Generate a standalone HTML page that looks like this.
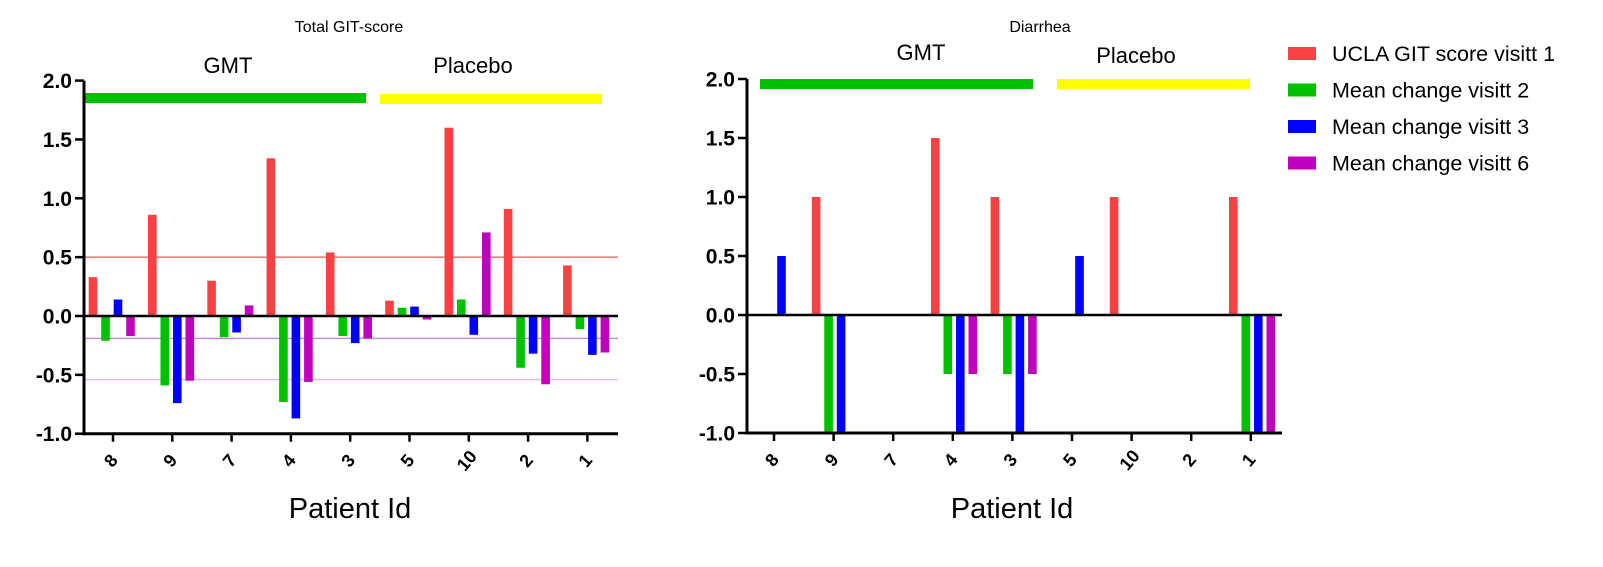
<!DOCTYPE html>
<html><head><meta charset="utf-8"><style>
body{margin:0;background:#fff;}
svg{display:block;font-family:"Liberation Sans",Arial,sans-serif;}
</style></head><body>
<svg id="chart" width="1603" height="567" viewBox="0 0 1603 567"></svg>
<script>
const categories = ["8","9","7","4","3","5","10","2","1"];
const seriesNames = ["UCLA GIT score visitt 1","Mean change visitt 2","Mean change visitt 3","Mean change visitt 6"];
const seriesColors = ["#f94144","#00c000","#0000ff","#bf00bf"];
const leftV1 = [0.33,0.86,0.30,1.34,0.54,0.13,1.60,0.91,0.43];
const leftV2 = [-0.21,-0.59,-0.18,-0.73,-0.17,0.07,0.14,-0.44,-0.11];
const leftV3 = [0.14,-0.74,-0.14,-0.87,-0.23,0.08,-0.16,-0.32,-0.33];
const leftV6 = [-0.17,-0.55,0.09,-0.56,-0.19,-0.03,0.71,-0.58,-0.31];
const rightV1 = [0,1,0,1.5,1,0,1,0,1];
const rightV2 = [0,-1,0,-0.5,-0.5,0,0,0,-1];
const rightV3 = [0.5,-1,0,-1,-1,0.5,0,0,-1];
const rightV6 = [0,0,0,-0.5,-0.5,0,0,0,-1];
const yTicks = [2.0,1.5,1.0,0.5,0.0,-0.5,-1.0];
const leftRefLines = [0.5,-0.19,-0.54];
const refColors = ["#ff5050","#c080e0","#f0b0f0"];

const svg = document.getElementById('chart');
const NS = "http://www.w3.org/2000/svg";
function mk(tag, attrs, parent){const e=document.createElementNS(NS,tag);for(const k in attrs)e.setAttribute(k,attrs[k]);(parent||svg).appendChild(e);return e;}

function drawPanel(p){
  const g = mk('g',{});
  
  
  const yS = v => p.y0 - v*p.unit;
  const xS = i => p.x0 + i*p.step;
  const t = mk('text',{x:p.titleX,y:32,'font-size':16,'text-anchor':'middle',fill:'#000'},g);
  t.textContent = p.title;
  
  
  p.groups.forEach(gr=>{
    const r = mk('rect',{x:gr.x1,y:gr.y,width:gr.x2-gr.x1,height:10,fill:gr.color},g);
    
    
    const tx = mk('text',{x:gr.tx,y:gr.ty,'font-size':22,'text-anchor':'middle',fill:'#000'},g);
    tx.textContent = gr.label;
    
    
  });
  (p.refs||[]).forEach((v,i)=>{
    const l = mk('line',{x1:p.axisX,x2:p.axisEnd,y1:yS(v),y2:yS(v),stroke:refColors[i],'stroke-width':1.3},g);
    
    
  });
  p.series.forEach((vals,s)=>{
    vals.forEach((v,i)=>{
      if(v===0) return;
      const cx = xS(i)+p.offs[s];
      const y1 = yS(Math.max(v,0)), y2 = yS(Math.min(v,0));
      const b = mk('rect',{x:cx-4.3,y:y1,width:8.6,height:y2-y1,fill:seriesColors[s]},g);
      
      
    });
  });
  const ya = mk('line',{x1:p.axisX,x2:p.axisX,y1:yS(2),y2:yS(-1)+1.5,stroke:'#000','stroke-width':3},g);
  
  
  const z = mk('line',{x1:p.axisX,x2:p.axisEnd,y1:yS(0),y2:yS(0),stroke:'#000','stroke-width':2.5},g);
  
  
  const xa = mk('line',{x1:p.axisX-1.5,x2:p.axisEnd,y1:yS(-1),y2:yS(-1),stroke:'#000','stroke-width':3},g);
  
  
  yTicks.forEach(v=>{
    mk('line',{x1:p.axisX-9,x2:p.axisX,y1:yS(v),y2:yS(v),stroke:'#000','stroke-width':2.5},g);
    const lt = mk('text',{x:p.axisX-12,y:yS(v)+7.5,'font-size':21,'font-weight':'bold','text-anchor':'end',fill:'#000'},g);
    lt.textContent = v.toFixed(1);
    
    
  });
  categories.forEach((c,i)=>{
    const x = xS(i);
    mk('line',{x1:x,x2:x,y1:yS(-1),y2:yS(-1)+8,stroke:'#000','stroke-width':2.5},g);
    const lt = mk('text',{x:x-2,y:yS(-1)+33,'font-size':18,'font-weight':'bold','text-anchor':'middle',fill:'#000',transform:`rotate(-50 ${x-2} ${yS(-1)+27})`},g);
    lt.textContent = c;
    
    
  });
  const xt = mk('text',{x:p.xTitleX,y:518,'font-size':29,'text-anchor':'middle',fill:'#000'},g);
  xt.textContent = 'Patient Id';
  
  
}

drawPanel({name:'left-panel-total-git-score',title:'Total GIT-score',titleX:349,x0:113,step:59.3,y0:316,unit:117.7,axisX:84,axisEnd:618,xTitleX:350,
  offs:[-20,-7.5,5,17.5],
  refs:leftRefLines,series:[leftV1,leftV2,leftV3,leftV6],
  groups:[{label:'GMT',x1:84,x2:366,y:93,color:'#00c000',tx:228,ty:73},{label:'Placebo',x1:380,x2:602,y:94,color:'#ffff00',tx:473,ty:73}]});
drawPanel({name:'right-panel-diarrhea',title:'Diarrhea',titleX:1040,x0:774,step:59.6,y0:315,unit:118,axisX:747,axisEnd:1282,xTitleX:1012,
  offs:[-17.5,-5,7.5,20],
  refs:[],series:[rightV1,rightV2,rightV3,rightV6],
  groups:[{label:'GMT',x1:760,x2:1033,y:79,color:'#00c000',tx:921,ty:60},{label:'Placebo',x1:1057,x2:1250,y:79,color:'#ffff00',tx:1136,ty:63}]});

const lg = mk('g',{});


seriesNames.forEach((n,i)=>{
  const y = 47 + i*36.5;
  const r = mk('rect',{x:1288,y:y,width:28,height:13,fill:seriesColors[i]},lg);
  
  
  const t = mk('text',{x:1332,y:y+14,'font-size':21.5,fill:'#000'},lg);
  t.textContent = n;
  
  
});
</script>
</body></html>
